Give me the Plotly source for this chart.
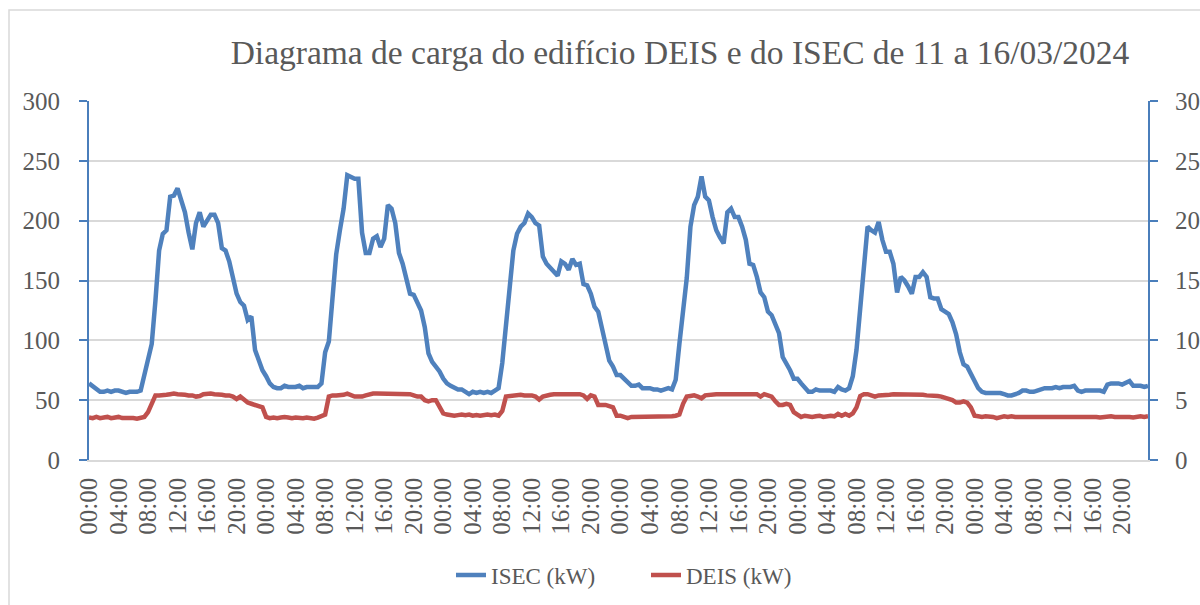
import pandas as pd
import plotly.graph_objects as go

# ---------------- data (30-min readings, 11..16/03/2024) ----------------
start_time = "2024-03-11 00:00"
n_points = 288
step = "30min"

isec_11 = [64, 62, 60, 57, 57, 58, 57, 58, 58, 57, 56, 57, 57, 57, 58, 72,
           87, 97, 133, 175, 189, 192, 220, 221, 227, 216, 207, 190, 176, 198, 207, 195,
           200, 205, 205, 198, 177, 175, 166, 153, 139, 132, 129, 117, 120, 92, 82, 75]
isec_12 = [70, 64, 61, 60, 60, 62, 61, 61, 61, 62, 60, 61, 61, 61, 61, 64,
           90, 99, 132, 172, 192, 210, 238, 236, 235, 235, 190, 173, 173, 185, 187, 178,
           185, 213, 210, 198, 173, 164, 153, 139, 138, 132, 125, 111, 89, 82, 78, 74]
isec_13 = [68, 64, 62, 60, 59, 59, 57, 55, 57, 56, 57, 56, 57, 56, 58, 60,
           81, 111, 147, 175, 189, 195, 198, 206, 203, 198, 196, 170, 164, 161, 157, 154,
           166, 164, 159, 168, 163, 164, 147, 146, 139, 128, 124, 111, 97, 83, 78, 71]
isec_14 = [71, 68, 66, 62, 62, 63, 60, 60, 60, 59, 59, 58, 59, 60, 59, 67,
           97, 128, 152, 195, 213, 220, 237, 220, 217, 203, 192, 186, 181, 207, 210, 203,
           203, 195, 184, 164, 163, 153, 140, 136, 124, 121, 114, 106, 86, 81, 75, 68]
isec_15 = [68, 64, 60, 57, 57, 59, 58, 58, 58, 58, 57, 61, 59, 58, 60, 70,
           92, 128, 164, 195, 192, 190, 199, 184, 174, 174, 164, 140, 153, 150, 145, 139,
           153, 153, 157, 153, 136, 135, 135, 126, 124, 122, 115, 105, 90, 80, 78, 72]
isec_16 = [65, 60, 57, 56, 56, 56, 56, 56, 55, 54, 54, 55, 56, 58, 58, 57,
           57, 58, 59, 60, 60, 60, 61, 60, 61, 61, 61, 62, 58, 57, 58, 58,
           58, 58, 58, 57, 63, 64, 64, 64, 63, 65, 66, 62, 62, 62, 61, 62]

deis_11 = [3.55, 3.5, 3.6, 3.5, 3.55, 3.6, 3.5, 3.55, 3.6, 3.5, 3.5, 3.55, 3.5, 3.45, 3.55, 3.6,
           4.0, 4.6, 5.4, 5.4, 5.4, 5.45, 5.5, 5.55, 5.5, 5.5, 5.45, 5.4, 5.4, 5.3, 5.35, 5.5,
           5.55, 5.55, 5.5, 5.5, 5.45, 5.4, 5.4, 5.3, 5.1, 5.3, 5.0, 4.8, 4.7, 4.6, 4.5, 4.4]
deis_12 = [3.6, 3.5, 3.55, 3.5, 3.55, 3.6, 3.55, 3.5, 3.55, 3.5, 3.5, 3.55, 3.5, 3.45, 3.55, 3.7,
           3.8, 5.3, 5.4, 5.4, 5.4, 5.45, 5.55, 5.4, 5.3, 5.3, 5.3, 5.4, 5.5, 5.55, 5.55, 5.55,
           5.55, 5.5, 5.5, 5.55, 5.5, 5.5, 5.5, 5.5, 5.4, 5.3, 5.3, 5.0, 4.9, 5.0, 5.0, 4.4]
deis_13 = [3.9, 3.8, 3.75, 3.7, 3.75, 3.8, 3.75, 3.8, 3.7, 3.75, 3.7, 3.75, 3.8, 3.75, 3.8, 3.7,
           4.1, 5.3, 5.35, 5.4, 5.45, 5.45, 5.4, 5.4, 5.4, 5.3, 5.05, 5.3, 5.4, 5.45, 5.5, 5.5,
           5.5, 5.5, 5.5, 5.5, 5.5, 5.5, 5.4, 5.1, 5.4, 5.3, 4.6, 4.6, 4.6, 4.5, 4.4, 3.7]
deis_14 = [3.7, 3.6, 3.5, 3.6, 3.6, 3.65, 3.6, 3.6, 3.65, 3.6, 3.6, 3.6, 3.65, 3.6, 3.65, 3.7,
           3.8, 4.7, 5.3, 5.35, 5.4, 5.3, 5.15, 5.4, 5.45, 5.45, 5.5, 5.5, 5.5, 5.55, 5.55, 5.5,
           5.5, 5.5, 5.5, 5.5, 5.5, 5.5, 5.3, 5.5, 5.4, 5.3, 4.9, 4.6, 4.6, 4.7, 4.6, 4.0]
deis_15 = [3.8, 3.6, 3.7, 3.65, 3.6, 3.65, 3.7, 3.6, 3.65, 3.7, 3.65, 3.85, 3.7, 3.85, 3.7, 3.9,
           4.4, 5.35, 5.5, 5.5, 5.4, 5.3, 5.4, 5.4, 5.45, 5.45, 5.5, 5.5, 5.5, 5.5, 5.5, 5.5,
           5.45, 5.45, 5.45, 5.4, 5.4, 5.4, 5.35, 5.3, 5.2, 5.1, 5.0, 4.8, 4.8, 4.9, 4.8, 4.4]
deis_16 = [3.7, 3.65, 3.6, 3.65, 3.65, 3.6, 3.5, 3.6, 3.65, 3.6, 3.65, 3.6, 3.6, 3.65, 3.6, 3.6,
           3.65, 3.6, 3.65, 3.6, 3.6, 3.65, 3.6, 3.65, 3.6, 3.6, 3.65, 3.6, 3.6, 3.65, 3.6, 3.6,
           3.65, 3.6, 3.55, 3.6, 3.6, 3.65, 3.6, 3.6, 3.65, 3.6, 3.6, 3.55, 3.6, 3.65, 3.6, 3.65]

series_names = ["ISEC (kW)", "DEIS (kW)"]
title_text = "Diagrama de carga do edifício DEIS e do ISEC de 11 a 16/03/2024"
left_range = [0, 300]
right_range = [0, 30]

# ---------------- figure ----------------
times = pd.date_range(start_time, periods=n_points, freq=step)
isec = isec_11 + isec_12 + isec_13 + isec_14 + isec_15 + isec_16
deis = deis_11 + deis_12 + deis_13 + deis_14 + deis_15 + deis_16

FONT = "Liberation Serif"
GREY = "#595959"
BLUE = "#4F81BD"
RED = "#C0504D"
AXBLUE = "#4A7EBB"
GRID = "#D9D9D9"

W, H = 1200, 605
L, R, T, B = 89, 52, 101, 145
PW, PH = W - L - R, H - T - B

fig = go.Figure()
fig.add_trace(go.Scatter(x=times, y=isec, name=series_names[0], mode="lines",
                         line=dict(color=BLUE, width=4.5)))
fig.add_trace(go.Scatter(x=times, y=deis, name=series_names[1], mode="lines", yaxis="y2",
                         line=dict(color=RED, width=4.5)))

tick_common = dict(tickcolor=AXBLUE, tickwidth=2, ticklen=8, zeroline=False, automargin=False)

fig.update_layout(
    width=W, height=H,
    margin=dict(l=L, r=R, t=T, b=B, pad=0, autoexpand=False),
    paper_bgcolor="white", plot_bgcolor="white",
    font=dict(family=FONT, color=GREY, size=25),
    title=dict(text=title_text, xref="container", x=680 / W, xanchor="center",
               yref="container", y=1 - 52 / H, yanchor="middle",
               font=dict(family=FONT, size=33.5, color=GREY)),
    showlegend=True,
    legend=dict(orientation="h", xanchor="center", x=(646 - L) / PW,
                yanchor="middle", y=(460 - 575) / PH, entrywidth=150,
                font=dict(family=FONT, size=23, color=GREY)),
    xaxis=dict(type="date", range=[times[0], times[-1]], tick0=times[0],
               dtick=4 * 3600 * 1000, tickformat="%H:%M", tickangle=-90,
               showgrid=False, showline=True, linecolor=GRID, linewidth=1.5,
               ticks="", ticklabelstandoff=6, tickfont=dict(size=25, color=GREY),
               zeroline=False, automargin=False),
    yaxis=dict(range=left_range, dtick=50, showgrid=True, gridcolor=GRID, gridwidth=1.5,
               showline=True, linecolor=AXBLUE, linewidth=2, ticks="outside",
               ticklabelstandoff=14, tickfont=dict(size=25, color=GREY), **tick_common),
    yaxis2=dict(range=right_range, dtick=5, overlaying="y", side="right", showgrid=False,
                showline=True, linecolor=AXBLUE, linewidth=2, ticks="outside",
                ticklabelstandoff=12, tickfont=dict(size=25, color=GREY), **tick_common),
    yaxis3=dict(range=left_range, dtick=50, overlaying="y", side="left", showgrid=False,
                showline=False, ticks="inside", showticklabels=False, **tick_common),
    yaxis4=dict(range=right_range, dtick=5, overlaying="y", side="right", showgrid=False,
                showline=False, ticks="inside", showticklabels=False, **tick_common),
    shapes=[dict(type="rect", xref="paper", yref="paper",
                 x0=(9 - L) / PW, x1=(W + 20 - L) / PW,
                 y0=-(H + 20 - 460) / PH, y1=(460 - 10) / PH,
                 line=dict(color=GRID, width=1.5), fillcolor="rgba(0,0,0,0)", layer="below")],
)

fig.write_html("out.html", config={"displayModeBar": False},
               post_script="document.body.style.margin='0';document.body.style.overflow='hidden';")
